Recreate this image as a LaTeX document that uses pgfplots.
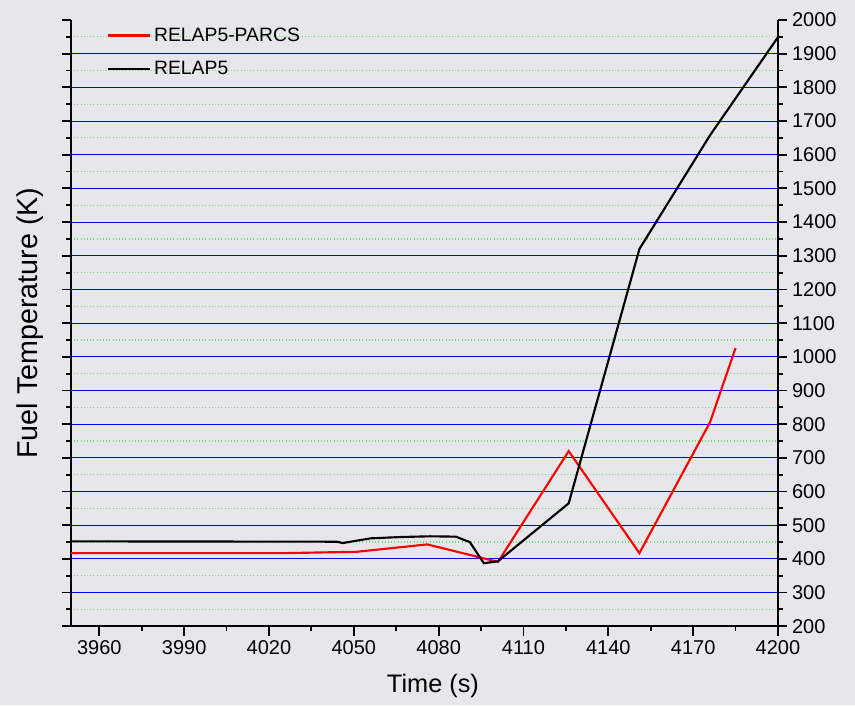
\documentclass[border=0pt]{standalone}
\usepackage{fontspec}
\setmainfont{Liberation Sans}
\usepackage{pgfplots}
\pgfplotsset{compat=1.18}
\definecolor{bgc}{RGB}{231,231,235}
\definecolor{mingrid}{RGB}{110,225,110}
\begin{document}
\begin{tikzpicture}
\fill[bgc,use as bounding box] (-53.25pt,-59.25pt) rectangle (587.75pt,469.5pt);
\begin{axis}[
  at={(0pt,0pt)}, anchor=south west,
  scale only axis, width=530pt, height=454.5pt,
  xmin=3950, xmax=4200, ymin=200, ymax=2000,
  xtick={3960,3990,...,4200},
  minor xtick={3975,4005,...,4185},
  ytick={300,400,...,1900},
  extra y ticks={200,2000},
  extra y tick style={grid=none},
  minor ytick={250,350,...,1950},
  xtick pos=bottom,
  ytick pos=both,
  yticklabel pos=right,
  tick align=outside,
  major tick length=7pt, minor tick length=3.5pt,
  every tick/.style={black, line width=1.4pt},
  axis line style={line width=1.8pt},
  separate axis lines,
  axis x line*=bottom,
  every outer y axis line/.style={line width=1.8pt},
  ymajorgrids, yminorgrids,
  major grid style={blue, line width=0.8pt},
  minor grid style={mingrid, dotted, line width=0.9pt},
  /pgf/number format/assume math mode=true,
  /pgf/number format/1000 sep={},
  tick label style={font=\fontsize{15}{18}\selectfont},
  xlabel={Time (s)},
  ylabel={Fuel Temperature (K)},
  every axis x label/.style={at={(axis description cs:0.512,-0.099)}, anchor=center, font=\fontsize{19}{23}\selectfont},
  every axis y label/.style={at={(axis description cs:-0.058,0.5)}, rotate=90, anchor=center, font=\fontsize{21.5}{25}\selectfont},
  legend style={at={(axis description cs:0.05,0.992)}, anchor=north west, draw=none, fill=none,
    font=\fontsize{14.5}{17}\selectfont, row sep=9.5pt, inner sep=0pt},
  legend cell align=left,
  legend image code/.code={\draw[#1] (0pt,0pt) -- (32pt,0pt);},
]
\addplot[red, line width=1.6pt] coordinates {
(3950,417) (4025,417) (4051,421) (4076,443) (4101,391) (4126,720) (4151,417) (4176,806) (4185,1026)
};
\addlegendentry{RELAP5-PARCS}
\addplot[black, line width=1.6pt] coordinates {
(3950,452) (4044,451) (4046,447) (4056,461) (4067,465) (4077,467) (4086,466) (4091,450) (4096,387) (4101,393) (4126,565) (4151,1320) (4176,1658) (4200,1949)
};
\addlegendentry{RELAP5}
\end{axis}
\end{tikzpicture}
\end{document}
